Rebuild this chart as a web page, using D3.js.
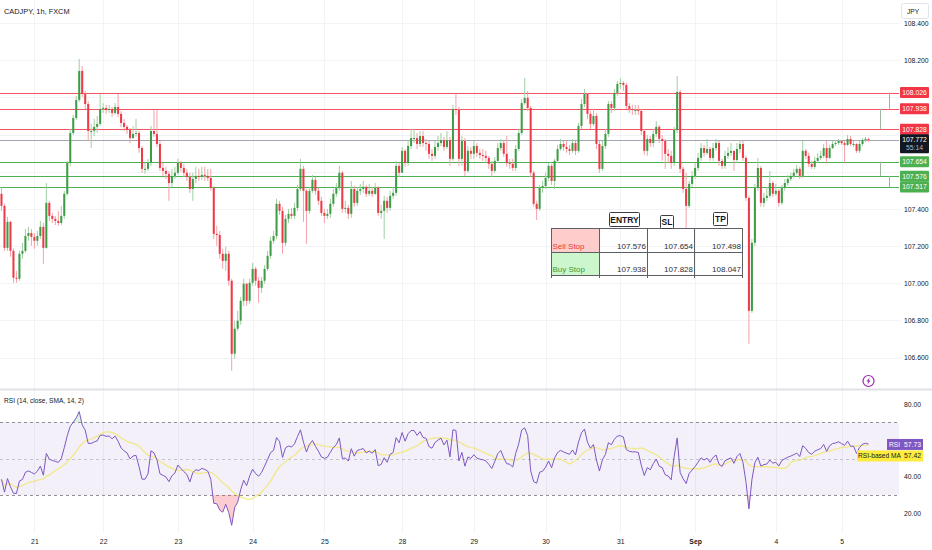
<!DOCTYPE html>
<html>
<head>
<meta charset="utf-8">
<script src="https://cdn.jsdelivr.net/npm/d3@7"></script>
<style>
  html, body { margin: 0; padding: 0; background: #fff; }
  svg { display: block; font-family: "Liberation Sans", Arial, sans-serif; }
</style>
</head>
<body>
<div id="chart"></div>
<script>
// ── Data (CADJPY 1h, FXCM) ───────────────────────────────────
const symbolTitle = 'CADJPY, 1h, FXCM';
const firstOpen = 107.481;
const closes = [
  107.416,107.190,107.330,107.174,107.029,107.024,107.158,107.174,107.254,107.270,
  107.249,107.228,107.254,107.303,107.190,107.432,107.362,107.346,107.335,107.324,
  107.362,107.481,107.647,107.808,107.889,107.986,108.142,108.018,107.964,107.819,
  107.819,107.841,107.857,107.937,107.943,107.932,107.937,107.916,107.948,107.911,
  107.862,107.841,107.825,107.781,107.803,107.808,107.727,107.615,107.615,107.647,
  107.819,107.803,107.749,107.620,107.604,107.588,107.539,107.577,107.594,107.647,
  107.620,107.594,107.572,107.507,107.561,107.577,107.572,107.583,107.577,107.566,
  107.513,107.265,107.259,107.158,107.120,107.158,107.013,106.620,106.755,106.798,
  106.905,106.997,106.905,107.002,107.077,107.013,106.975,107.013,107.077,107.147,
  107.228,107.254,107.427,107.389,107.217,107.346,107.373,107.362,107.405,107.507,
  107.615,107.497,107.389,107.497,107.556,107.497,107.443,107.378,107.362,107.373,
  107.427,107.481,107.513,107.594,107.400,107.405,107.373,107.507,107.432,107.497,
  107.507,107.518,107.481,107.497,107.481,107.513,107.378,107.389,107.443,107.405,
  107.470,107.486,107.631,107.594,107.712,107.647,107.738,107.781,107.781,107.749,
  107.792,107.754,107.749,107.696,107.685,107.733,107.754,107.770,107.733,107.770,
  107.669,107.937,107.932,107.669,107.765,107.604,107.712,107.696,107.738,107.701,
  107.690,107.685,107.674,107.642,107.604,107.658,107.727,107.754,107.696,107.647,
  107.642,107.620,107.722,107.808,107.969,107.997,107.943,107.594,107.427,107.400,
  107.513,107.523,107.566,107.631,107.550,107.658,107.722,107.749,107.733,107.722,
  107.712,107.754,107.712,107.846,107.964,108.018,107.911,107.857,107.900,107.749,
  107.615,107.738,107.803,107.964,107.943,108.023,108.072,108.077,108.066,107.953,
  107.937,107.932,107.932,107.927,107.819,107.712,107.776,107.754,107.803,107.841,
  107.776,107.765,107.696,107.685,107.647,107.824,108.029,107.615,107.507,107.416,
  107.534,107.577,107.620,107.674,107.727,107.701,107.722,107.674,107.727,107.754,
  107.658,107.631,107.685,107.701,107.712,107.663,107.722,107.749,107.674,107.459,
  106.851,107.217,107.513,107.620,107.432,107.459,107.470,107.539,107.481,107.497,
  107.432,107.513,107.539,107.561,107.577,107.594,107.615,107.577,107.712,107.685,
  107.642,107.626,107.658,107.674,107.685,107.727,107.674,107.727,107.749,107.754,
  107.765,107.754,107.744,107.776,107.749,107.749,107.712,107.749,107.770,107.776,
  107.772
];
const highs = [
  107.518,107.427,107.357,107.335,107.185,107.066,107.174,107.217,107.292,107.303,
  107.292,107.270,107.281,107.335,107.324,107.539,107.443,107.378,107.362,107.389,
  107.416,107.497,107.658,107.830,107.905,108.007,108.206,108.168,108.034,107.980,
  107.857,107.884,107.900,108.018,107.969,107.959,107.959,107.948,107.969,108.018,
  107.927,107.884,107.851,107.835,107.846,107.884,107.819,107.738,107.647,107.669,
  107.846,107.932,107.932,107.765,107.647,107.626,107.604,107.615,107.626,107.669,
  107.658,107.642,107.615,107.594,107.594,107.626,107.615,107.626,107.626,107.615,
  107.615,107.523,107.308,107.281,107.185,107.196,107.174,107.024,106.798,106.851,
  106.926,107.024,107.002,107.024,107.109,107.088,107.034,107.034,107.098,107.174,
  107.249,107.281,107.454,107.443,107.411,107.367,107.400,107.405,107.432,107.529,
  107.669,107.631,107.507,107.518,107.583,107.572,107.513,107.464,107.400,107.400,
  107.454,107.507,107.539,107.631,107.604,107.443,107.421,107.550,107.523,107.518,
  107.534,107.550,107.529,107.534,107.518,107.539,107.523,107.421,107.470,107.464,
  107.497,107.518,107.658,107.647,107.733,107.722,107.765,107.830,107.830,107.808,
  107.819,107.819,107.776,107.765,107.722,107.765,107.792,107.808,107.787,107.819,
  107.787,107.959,108.018,107.948,107.792,107.781,107.738,107.733,107.765,107.754,
  107.722,107.722,107.712,107.685,107.658,107.680,107.754,107.776,107.765,107.792,
  107.669,107.669,107.744,107.830,107.991,108.104,108.034,107.953,107.604,107.443,
  107.529,107.550,107.594,107.647,107.642,107.669,107.744,107.776,107.765,107.765,
  107.744,107.776,107.765,107.862,107.991,108.045,108.023,107.927,107.937,107.916,
  107.765,107.765,107.830,107.980,107.980,108.045,108.088,108.104,108.088,108.077,
  107.969,107.959,107.959,107.959,107.937,107.830,107.797,107.792,107.830,107.873,
  107.851,107.797,107.776,107.722,107.712,107.841,108.115,108.040,107.626,107.594,
  107.550,107.604,107.647,107.701,107.754,107.744,107.776,107.733,107.754,107.776,
  107.765,107.669,107.712,107.733,107.754,107.712,107.754,107.770,107.765,107.685,
  107.470,107.238,107.534,107.674,107.631,107.486,107.518,107.604,107.550,107.534,
  107.507,107.529,107.561,107.583,107.594,107.615,107.637,107.626,107.765,107.722,
  107.701,107.658,107.680,107.701,107.712,107.749,107.765,107.744,107.765,107.770,
  107.776,107.770,107.765,107.797,107.792,107.765,107.754,107.765,107.781,107.787,
  107.781
];
const lows = [
  107.389,107.174,107.174,107.142,107.002,107.002,107.013,107.131,107.163,107.228,
  107.201,107.185,107.201,107.238,107.104,107.185,107.335,107.324,107.313,107.308,
  107.313,107.346,107.470,107.631,107.797,107.878,107.975,108.002,107.937,107.765,
  107.727,107.792,107.808,107.846,107.916,107.911,107.916,107.894,107.905,107.894,
  107.841,107.819,107.803,107.754,107.776,107.787,107.701,107.594,107.588,107.604,
  107.631,107.787,107.733,107.604,107.577,107.561,107.443,107.518,107.561,107.583,
  107.599,107.572,107.550,107.486,107.443,107.539,107.550,107.556,107.550,107.550,
  107.497,107.238,107.201,107.131,107.077,107.066,106.986,106.529,106.593,106.744,
  106.776,106.878,106.878,106.889,106.986,106.986,106.894,106.948,106.997,107.066,
  107.131,107.212,107.238,107.367,107.158,107.201,107.324,107.346,107.346,107.389,
  107.497,107.330,107.212,107.373,107.486,107.475,107.421,107.362,107.324,107.346,
  107.351,107.411,107.464,107.497,107.378,107.378,107.346,107.351,107.411,107.416,
  107.475,107.486,107.464,107.470,107.464,107.475,107.362,107.346,107.238,107.378,
  107.389,107.454,107.470,107.572,107.594,107.626,107.631,107.722,107.754,107.722,
  107.733,107.733,107.712,107.669,107.658,107.669,107.712,107.738,107.712,107.722,
  107.631,107.658,107.905,107.631,107.631,107.577,107.594,107.669,107.669,107.680,
  107.669,107.658,107.647,107.615,107.572,107.594,107.647,107.712,107.680,107.626,
  107.615,107.604,107.604,107.712,107.797,107.959,107.927,107.572,107.411,107.340,
  107.389,107.486,107.507,107.550,107.529,107.507,107.647,107.712,107.712,107.701,
  107.690,107.701,107.690,107.701,107.830,107.948,107.884,107.830,107.846,107.722,
  107.594,107.604,107.722,107.787,107.916,107.927,108.007,108.045,108.034,107.937,
  107.916,107.905,107.905,107.905,107.797,107.690,107.685,107.733,107.733,107.787,
  107.754,107.658,107.615,107.647,107.615,107.631,107.808,107.594,107.486,107.297,
  107.405,107.518,107.561,107.604,107.658,107.680,107.690,107.658,107.658,107.712,
  107.631,107.615,107.615,107.669,107.685,107.604,107.647,107.701,107.658,107.443,
  106.674,106.840,107.201,107.497,107.411,107.411,107.443,107.459,107.464,107.470,
  107.411,107.421,107.497,107.524,107.550,107.566,107.583,107.561,107.566,107.669,
  107.626,107.615,107.615,107.647,107.663,107.674,107.647,107.669,107.722,107.738,
  107.744,107.744,107.647,107.738,107.738,107.733,107.701,107.701,107.738,107.760,
  107.760
];

// day labels: [bar index, label]
const dayTicks = [
  [11, '21'], [34, '22'], [59, '23'], [84, '24'], [108, '25'], [134, '28'],
  [158, '29'], [182, '30'], [207, '31'], [232, 'Sep'], [259, '4'], [281, '5']
];
const priceTicks = [106.6, 106.8, 107.0, 107.2, 107.4, 107.6, 107.8, 108.0, 108.2, 108.4];
const rsiTicks = [20, 40, 60, 80];
const rsiLevels = [70, 50, 30];

const redLevels = [108.026, 107.938, 107.828];
const greenLevels = [107.654, 107.576, 107.517];
const lastPrice = 107.772;
const countdown = '55:14';
const rsiLast = 57.73;
const rsiMaLast = 57.42;
const rsiStartLevel = 41;   // RSI level at the left edge (history before the window)

const tableHeaders = ['ENTRY', 'SL', 'TP'];
const tableRowNames = ['Sell Stop', 'Buy Stop'];
const tableValues = [
  [107.576, 107.654, 107.498],
  [107.938, 107.828, 108.047]
];

// ── Layout ───────────────────────────────────────────────────
const W = 932, H = 550;
const plotR = 899;          // right edge of the plotting area
const barsR = 870;          // right edge of the bar band (rest is empty space)
const sepY = 389.5;
const n = closes.length;
const RED = '#f23645', GREEN = '#4caf50';

const bars = closes.map((c, i) => {
  const o = i ? closes[i - 1] : firstOpen;
  return { i, o, c, h: Math.max(highs[i], o, c), l: Math.min(lows[i], o, c) };
});

// RSI (Wilder smoothing, length 14) and its SMA 14
function rsiSeries(src, prev, len, startLevel) {
  const ch = src.map((v, i) => v - (i ? src[i - 1] : prev));
  const avgMove = d3.mean(ch.slice(0, len), d => Math.abs(d));
  let ag = avgMove * startLevel / 100;
  let al = avgMove * (1 - startLevel / 100);
  return ch.map(d => {
    ag = (ag * (len - 1) + Math.max(d, 0)) / len;
    al = (al * (len - 1) + Math.max(-d, 0)) / len;
    return al === 0 ? 100 : 100 - 100 / (1 + ag / al);
  });
}
const rsi = rsiSeries(closes, firstOpen, 14, rsiStartLevel);
const rsiMa = rsi.map((v, i) => d3.mean(rsi.slice(Math.max(0, i - 13), i + 1)));

// ── Scales ───────────────────────────────────────────────────
const x = d3.scaleLinear().domain([-0.5, n - 0.5]).range([0, barsR]);
const step = x(1) - x(0);
const bw = step * 0.68;
const y = d3.scaleLinear().domain([106.6, 108.4]).range([357.5, 23]);
const ry = d3.scaleLinear().domain([20, 80]).range([513, 404]);
const crisp = v => Math.round(v) + 0.5;

const svg = d3.select('#chart').append('svg')
  .attr('width', W).attr('height', H);
const defs = svg.append('defs');

defs.append('clipPath').attr('id', 'plot-main')
  .append('rect').attr('x', 0).attr('y', 0).attr('width', plotR).attr('height', sepY - 1);
defs.append('clipPath').attr('id', 'plot-rsi')
  .append('rect').attr('x', 0).attr('y', sepY + 1).attr('width', plotR).attr('height', 140);

// ── Grid ─────────────────────────────────────────────────────
const grid = svg.append('g').attr('stroke', '#f2f3f6').attr('stroke-width', 1);
grid.selectAll('.vg').data(dayTicks).join('line')
  .attr('x1', d => crisp(x(d[0]))).attr('x2', d => crisp(x(d[0])))
  .attr('y1', 0).attr('y2', 532);
grid.selectAll('.hg').data(priceTicks).join('line')
  .attr('x1', 0).attr('x2', plotR)
  .attr('y1', d => crisp(y(d))).attr('y2', d => crisp(y(d)));

// ── Level lines ──────────────────────────────────────────────
const lv = svg.append('g').attr('clip-path', 'url(#plot-main)');
lv.selectAll('line.red').data(redLevels).join('line').attr('class', 'red')
  .attr('x1', 0).attr('x2', plotR)
  .attr('y1', d => crisp(y(d))).attr('y2', d => crisp(y(d)))
  .attr('stroke', RED).attr('stroke-opacity', 0.85).attr('stroke-width', 1);
lv.selectAll('line.green').data(greenLevels).join('line').attr('class', 'green')
  .attr('x1', 0).attr('x2', plotR)
  .attr('y1', d => crisp(y(d))).attr('y2', d => crisp(y(d)))
  .attr('stroke', GREEN).attr('stroke-width', 1);
lv.append('line')
  .attr('x1', 0).attr('x2', plotR)
  .attr('y1', crisp(y(lastPrice))).attr('y2', crisp(y(lastPrice)))
  .attr('stroke', '#a3a6af').attr('stroke-width', 1);

// position-tool markers right of the last bar
const toolSegs = [
  [297, redLevels[0], redLevels[1]], [294, redLevels[1], redLevels[2]],
  [294, greenLevels[0], greenLevels[1]], [297, greenLevels[1], greenLevels[2]]
];
lv.selectAll('line.tool').data(toolSegs).join('line').attr('class', 'tool')
  .attr('x1', d => crisp(x(d[0]))).attr('x2', d => crisp(x(d[0])))
  .attr('y1', d => y(d[1])).attr('y2', d => y(d[2]))
  .attr('stroke', '#9fb7a0').attr('stroke-width', 1);

// ── Candles ──────────────────────────────────────────────────
const upCol = '#3f9c46', dnCol = '#ee3a46';
const upWick = '#9fd0a2', dnWick = '#f4a1a7';
const cg = svg.append('g').attr('clip-path', 'url(#plot-main)');
cg.selectAll('line.wick').data(bars).join('line').attr('class', 'wick')
  .attr('x1', d => x(d.i)).attr('x2', d => x(d.i))
  .attr('y1', d => y(d.h)).attr('y2', d => y(d.l))
  .attr('stroke', d => d.c >= d.o ? upWick : dnWick)
  .attr('stroke-width', 1);
cg.selectAll('rect.body').data(bars).join('rect').attr('class', 'body')
  .attr('x', d => x(d.i) - bw / 2)
  .attr('width', bw)
  .attr('y', d => y(Math.max(d.o, d.c)))
  .attr('height', d => Math.max(1, Math.abs(y(d.o) - y(d.c))))
  .attr('fill', d => d.c >= d.o ? upCol : dnCol);

// ── Table drawing ────────────────────────────────────────────
const colEdges = [551, 599, 647, 694, 742];
const rowEdges = [228, 252, 275];
const tb = svg.append('g');
tb.append('rect').attr('x', colEdges[0]).attr('y', rowEdges[0])
  .attr('width', colEdges[1] - colEdges[0]).attr('height', rowEdges[1] - rowEdges[0])
  .attr('fill', '#ffcccc');
tb.append('rect').attr('x', colEdges[0]).attr('y', rowEdges[1])
  .attr('width', colEdges[1] - colEdges[0]).attr('height', rowEdges[2] - rowEdges[1])
  .attr('fill', '#ccf7cc');
tb.selectAll('line.hl').data(rowEdges).join('line').attr('class', 'hl')
  .attr('x1', colEdges[0]).attr('x2', colEdges[4])
  .attr('y1', d => d + 0.5).attr('y2', d => d + 0.5)
  .attr('stroke', '#5d5f66').attr('stroke-width', 1);
tb.selectAll('line.vl').data(colEdges).join('line').attr('class', 'vl')
  .attr('x1', d => d + 0.5).attr('x2', d => d + 0.5)
  .attr('y1', rowEdges[0]).attr('y2', rowEdges[2] + 3)
  .attr('stroke', '#5d5f66').attr('stroke-width', 1);
tableRowNames.forEach((name, r) => {
  const base = rowEdges[r + 1] - 3.5;
  tb.append('text').attr('x', colEdges[0] + 1.5).attr('y', base)
    .attr('font-size', 8).attr('fill', r === 0 ? '#e53935' : '#3c9a3f').text(name);
  tableValues[r].forEach((v, c) => {
    tb.append('text').attr('x', colEdges[c + 2] - 1).attr('y', base)
      .attr('text-anchor', 'end').attr('font-size', 8).attr('fill', '#2a2e39')
      .text(d3.format('.3f')(v));
  });
});
const headerBoxes = [
  { x: 609, y: 212, w: 30, h: 14 },
  { x: 660, y: 215, w: 13, h: 13 },
  { x: 713, y: 212, w: 14, h: 13 }
];
tableHeaders.forEach((t, k) => {
  const b = headerBoxes[k];
  tb.append('rect').attr('x', b.x + 0.5).attr('y', b.y + 0.5).attr('width', b.w).attr('height', b.h)
    .attr('rx', 1).attr('fill', '#fff').attr('stroke', '#3a3d44').attr('stroke-width', 1);
  tb.append('text').attr('x', b.x + b.w / 2 + 0.5).attr('y', b.y + b.h - 3.5)
    .attr('text-anchor', 'middle').attr('font-size', 8.5).attr('font-weight', 'bold')
    .attr('fill', '#131722').text(t);
});

// ── Event marker ─────────────────────────────────────────────
const ex = x(n - 1), ey = 381;
svg.append('circle').attr('cx', ex).attr('cy', ey).attr('r', 5.5)
  .attr('fill', '#fff').attr('stroke', '#9c27b0').attr('stroke-width', 1.2);
svg.append('path')
  .attr('d', `M${ex + 1.2},${ey - 3.8} L${ex - 2},${ey + 0.6} L${ex - 0.2},${ey + 0.6} L${ex - 1.2},${ey + 3.8} L${ex + 2},${ey - 0.6} L${ex + 0.2},${ey - 0.6} Z`)
  .attr('fill', '#9c27b0');

// ── Title ────────────────────────────────────────────────────
svg.append('text').attr('x', 4).attr('y', 13.5)
  .attr('font-size', 7.4).attr('fill', '#131722').text(symbolTitle);

// ── Pane separator ───────────────────────────────────────────
svg.append('line').attr('x1', 0).attr('x2', W).attr('y1', sepY).attr('y2', sepY)
  .attr('stroke', '#dfe1e6').attr('stroke-width', 2);

// ── RSI pane ─────────────────────────────────────────────────
const rp = svg.append('g').attr('clip-path', 'url(#plot-rsi)');
rp.append('rect').attr('x', 0).attr('width', plotR)
  .attr('y', ry(70)).attr('height', ry(30) - ry(70))
  .attr('fill', 'rgba(126,87,194,0.09)');
rp.selectAll('line.lvl').data(rsiLevels).join('line').attr('class', 'lvl')
  .attr('x1', 0).attr('x2', plotR)
  .attr('y1', d => crisp(ry(d))).attr('y2', d => crisp(ry(d)))
  .attr('stroke', d => d === 50 ? '#c3c5cc' : '#8f929b')
  .attr('stroke-width', 1).attr('stroke-dasharray', '3,3');

defs.append('clipPath').attr('id', 'ob')
  .append('rect').attr('x', 0).attr('y', ry(100)).attr('width', plotR).attr('height', ry(70) - ry(100));
defs.append('clipPath').attr('id', 'os')
  .append('rect').attr('x', 0).attr('y', ry(30)).attr('width', plotR).attr('height', ry(0) - ry(30));

const obArea = d3.area().x((d, i) => x(i)).y0(ry(70)).y1(d => ry(d));
const osArea = d3.area().x((d, i) => x(i)).y0(ry(30)).y1(d => ry(d));
rp.append('path').datum(rsi).attr('clip-path', 'url(#ob)')
  .attr('d', obArea).attr('fill', 'rgba(76,175,80,0.18)');
rp.append('path').datum(rsi).attr('clip-path', 'url(#os)')
  .attr('d', osArea).attr('fill', 'rgba(242,54,69,0.25)');

rp.append('path').datum(rsiMa)
  .attr('d', d3.line().x((d, i) => x(i)).y(d => ry(d)))
  .attr('fill', 'none').attr('stroke', '#f1e66e').attr('stroke-opacity', 0.8).attr('stroke-width', 1.3);
rp.append('path').datum(rsi)
  .attr('d', d3.line().x((d, i) => x(i)).y(d => ry(d)))
  .attr('fill', 'none').attr('stroke', '#7e57c2').attr('stroke-width', 1);

svg.append('text').attr('x', 4).attr('y', 403)
  .attr('font-size', 6.6).attr('fill', '#131722').text('RSI (14, close, SMA, 14, 2)');

// ── Tags on the scales (positions first, to hide covered ticks) ──
const ly = y(lastPrice);
const priceTagYs = redLevels.concat(greenLevels).map(p => y(p)).concat([ly, ly + 8]);
const rsiY = ry(rsiLast);
let maY = ry(rsiMaLast);
if (Math.abs(maY - rsiY) < 11) maY = rsiY + 11.5;
const rsiTagYs = [rsiY, maY];

// ── Axes ─────────────────────────────────────────────────────
const axisFont = 6.8;
const yAxis = svg.append('g').attr('transform', `translate(${plotR},0)`)
  .call(d3.axisRight(y).tickValues(priceTicks).tickFormat(d3.format('.3f')).tickSize(0).tickPadding(5));
const rAxis = svg.append('g').attr('transform', `translate(${plotR},0)`)
  .call(d3.axisRight(ry).tickValues(rsiTicks).tickFormat(d3.format('.2f')).tickSize(0).tickPadding(5));
const xAxis = svg.append('g').attr('transform', 'translate(0,539)')
  .call(d3.axisBottom(x).tickValues(dayTicks.map(d => d[0]))
    .tickFormat(i => dayTicks.find(d => d[0] === i)[1]).tickSize(0).tickPadding(0));
[yAxis, rAxis, xAxis].forEach(a => {
  a.select('.domain').remove();
  a.selectAll('text').attr('font-size', axisFont).attr('fill', '#131722')
    .attr('font-family', '"Liberation Sans", Arial, sans-serif');
});
yAxis.selectAll('.tick').filter(d => priceTagYs.some(t => Math.abs(t - y(d)) < 9)).remove();
rAxis.selectAll('.tick').filter(d => rsiTagYs.some(t => Math.abs(t - ry(d)) < 9)).remove();
xAxis.selectAll('text').filter(d => dayTicks.find(t => t[0] === d)[1] === 'Sep')
  .attr('font-weight', 'bold');

// currency box
svg.append('rect').attr('x', 901.5).attr('y', 3.5).attr('width', 27).attr('height', 15).attr('rx', 2)
  .attr('fill', '#fff').attr('stroke', '#e0e3eb');
svg.append('text').attr('x', 907).attr('y', 13.5).attr('font-size', 6.6).attr('fill', '#131722').text('JPY');

// ── Price-scale labels ───────────────────────────────────────
function priceTag(p, bg, fg) {
  const cy = y(p);
  svg.append('rect').attr('x', 900).attr('y', cy - 5.5).attr('width', 29).attr('height', 11)
    .attr('rx', 1).attr('fill', bg);
  svg.append('text').attr('x', 914.5).attr('y', cy + 2.4).attr('text-anchor', 'middle')
    .attr('font-size', axisFont).attr('fill', fg).text(d3.format('.3f')(p));
}
redLevels.forEach(p => priceTag(p, RED, '#fff'));
greenLevels.forEach(p => priceTag(p, GREEN, '#fff'));

svg.append('rect').attr('x', 900).attr('y', ly - 5.5).attr('width', 29).attr('height', 19)
  .attr('rx', 1).attr('fill', '#131722');
svg.append('text').attr('x', 914.5).attr('y', ly + 2.4).attr('text-anchor', 'middle')
  .attr('font-size', axisFont).attr('fill', '#fff').text(d3.format('.3f')(lastPrice));
svg.append('text').attr('x', 914.5).attr('y', ly + 10.5).attr('text-anchor', 'middle')
  .attr('font-size', axisFont).attr('fill', '#b2b5be').text(countdown);

// RSI labels
function rsiTag(cy, name, value, bg, fg, nameW) {
  svg.append('rect').attr('x', 902 - nameW).attr('y', cy - 5.5).attr('width', nameW).attr('height', 11)
    .attr('fill', bg);
  svg.append('rect').attr('x', 902).attr('y', cy - 5.5).attr('width', 21).attr('height', 11)
    .attr('fill', bg);
  svg.append('text').attr('x', 902 - nameW / 2).attr('y', cy + 2.4).attr('text-anchor', 'middle')
    .attr('font-size', 6.6).attr('fill', fg).text(name);
  svg.append('text').attr('x', 912.5).attr('y', cy + 2.4).attr('text-anchor', 'middle')
    .attr('font-size', 6.8).attr('fill', fg).text(d3.format('.2f')(value));
}
rsiTag(rsiY, 'RSI', rsiLast, '#7e57c2', '#fff', 15);
rsiTag(maY, 'RSI-based MA', rsiMaLast, '#ffeb3b', '#131722', 45);
</script>
</body>
</html>
